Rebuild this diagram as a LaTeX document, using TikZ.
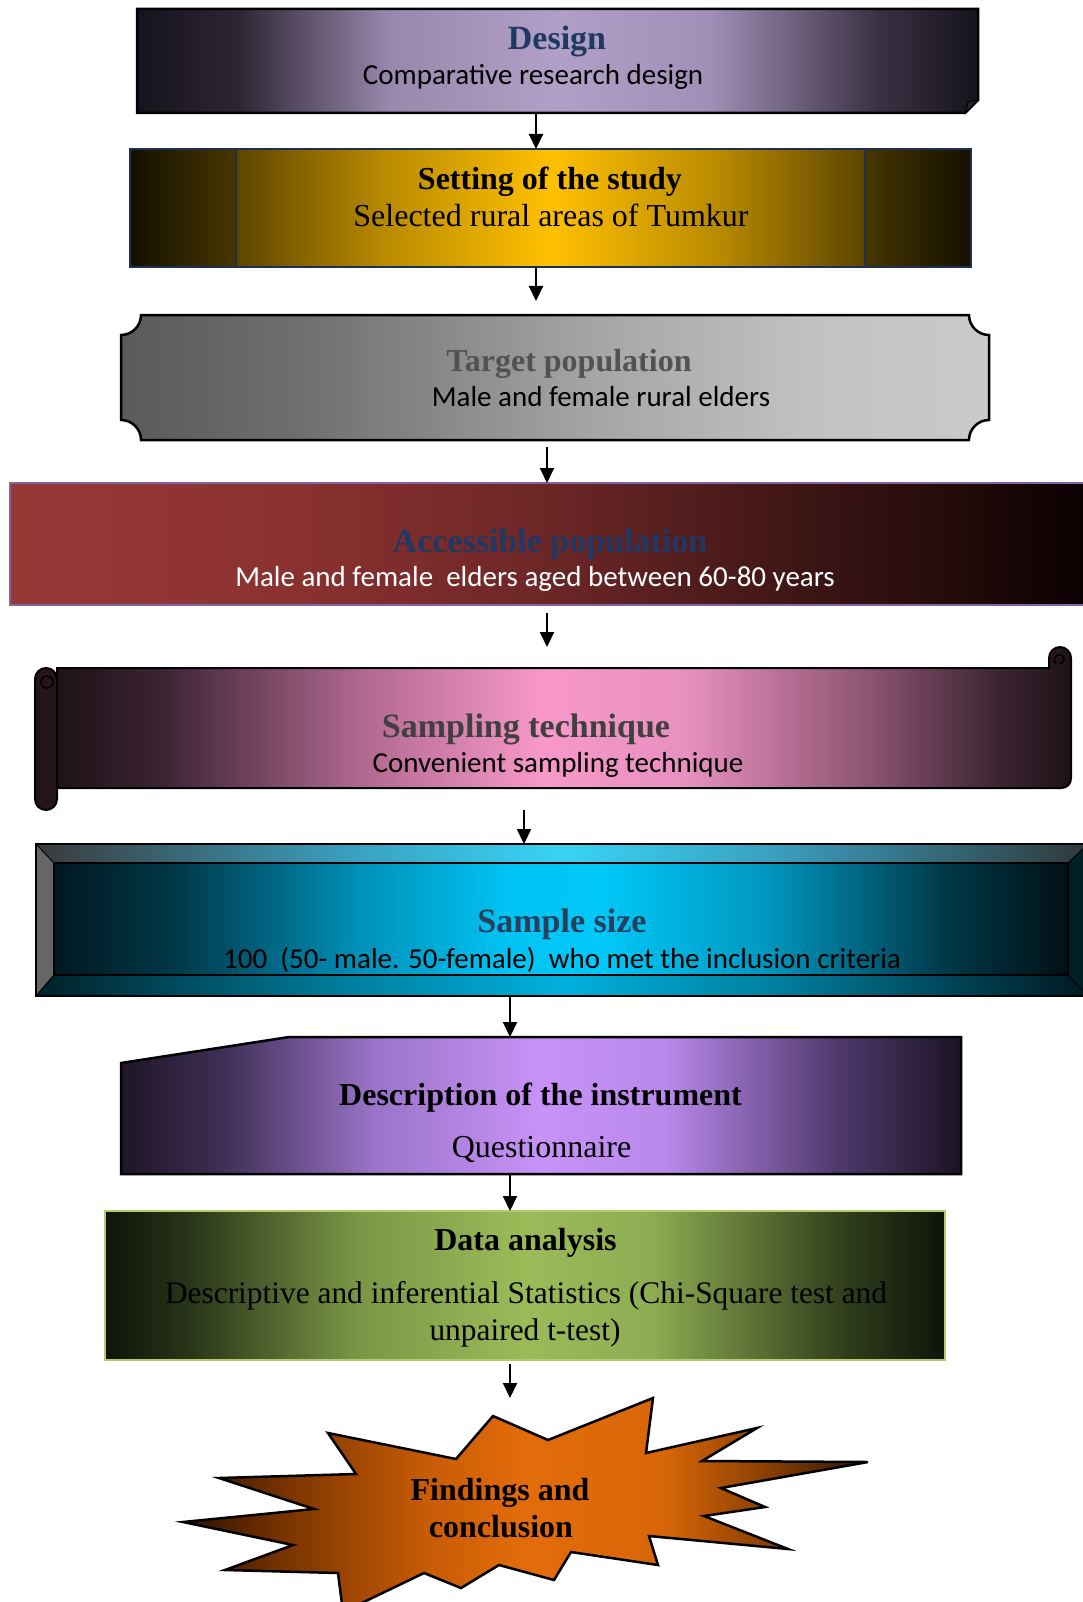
\documentclass[tikz,border=0pt]{standalone}
\usepackage{fontspec}
\setmainfont{Liberation Serif}
\newfontfamily\calfont{Carlito}
\usetikzlibrary{arrows.meta}
% colours
\definecolor{dA}{HTML}{16131C}\definecolor{dB}{HTML}{2C2634}\definecolor{dC}{HTML}{9988AD}
\definecolor{dD}{HTML}{B19FC7}\definecolor{dE}{HTML}{A28FB8}\definecolor{dF}{HTML}{3A3244}
\definecolor{sA}{HTML}{141000}\definecolor{sB}{HTML}{463600}\definecolor{sC}{HTML}{5E4600}
\definecolor{sD}{HTML}{B88A00}\definecolor{sE}{HTML}{FFC000}
\definecolor{tA}{HTML}{5A5A5A}\definecolor{tB}{HTML}{6E6E6E}\definecolor{tC}{HTML}{A6A6A6}
\definecolor{tD}{HTML}{C2C2C2}\definecolor{tE}{HTML}{CACACA}
\definecolor{aA}{HTML}{973836}\definecolor{aB}{HTML}{8B3230}\definecolor{aC}{HTML}{6C2626}
\definecolor{aD}{HTML}{3A1414}\definecolor{aE}{HTML}{1E0808}\definecolor{aF}{HTML}{0A0000}
\definecolor{pA}{HTML}{1E1218}\definecolor{pB}{HTML}{3A2230}\definecolor{pC}{HTML}{B06890}
\definecolor{pD}{HTML}{F898C8}\definecolor{pE}{HTML}{E890C0}\definecolor{pF}{HTML}{8C5470}
\definecolor{pG}{HTML}{3A2430}
\definecolor{cA}{HTML}{001820}\definecolor{cB}{HTML}{013848}\definecolor{cC}{HTML}{0090B8}
\definecolor{cD}{HTML}{00C4F4}\definecolor{cE}{HTML}{00C8F8}\definecolor{cF}{HTML}{0098C0}
\definecolor{cG}{HTML}{003848}\definecolor{cH}{HTML}{001014}
\definecolor{bA}{HTML}{3A3A3A}\definecolor{bB}{HTML}{3AA0C0}\definecolor{bC}{HTML}{38D4F4}
\definecolor{bD}{HTML}{303838}
\definecolor{eA}{HTML}{002028}\definecolor{eB}{HTML}{0080A0}\definecolor{eC}{HTML}{00B0DC}
\definecolor{eD}{HTML}{001820}
\definecolor{iA}{HTML}{1E1626}\definecolor{iB}{HTML}{3E2E54}\definecolor{iC}{HTML}{9A74C8}
\definecolor{iD}{HTML}{C892F8}\definecolor{iE}{HTML}{B888EA}\definecolor{iF}{HTML}{503A6E}
\definecolor{iG}{HTML}{1C1424}
\definecolor{gA}{HTML}{0E1408}\definecolor{gB}{HTML}{283418}\definecolor{gC}{HTML}{7A9646}
\definecolor{gD}{HTML}{9BBB59}\definecolor{gE}{HTML}{8EAC52}\definecolor{gF}{HTML}{303E1C}
\definecolor{oA}{HTML}{2E1000}\definecolor{oB}{HTML}{7A3400}\definecolor{oC}{HTML}{C65A06}
\definecolor{oD}{HTML}{E36C0A}\definecolor{oE}{HTML}{D86608}\definecolor{oF}{HTML}{8A4004}
\definecolor{oG}{HTML}{2E1200}
\definecolor{titleblue}{HTML}{1F3A60}
\definecolor{accblue}{HTML}{1F3864}
\definecolor{sampblue}{HTML}{2B3F5C}
\definecolor{setline}{HTML}{1F2F4F}
\definecolor{accline}{HTML}{8064A2}
\definecolor{dataline}{HTML}{B5CC6A}
\definecolor{scrolldark}{HTML}{24141C}
% shadings
\pgfdeclarehorizontalshading{designsh}{100bp}{color(0bp)=(dA); color(25bp)=(dA); color(31bp)=(dB); color(40bp)=(dC); color(50bp)=(dD); color(59bp)=(dE); color(69bp)=(dF); color(75bp)=(dA); color(100bp)=(dA)}
\pgfdeclarehorizontalshading{settingsh}{100bp}{color(0bp)=(sA); color(25bp)=(sA); color(31.25bp)=(sB); color(31.4bp)=(sC); color(40bp)=(sD); color(50bp)=(sE); color(60bp)=(sD); color(68.6bp)=(sC); color(68.75bp)=(sB); color(75bp)=(sA); color(100bp)=(sA)}
\pgfdeclarehorizontalshading{targetsh}{100bp}{color(0bp)=(tA); color(25bp)=(tA); color(35bp)=(tB); color(52.5bp)=(tC); color(65bp)=(tD); color(75bp)=(tE); color(100bp)=(tE)}
\pgfdeclarehorizontalshading{accesssh}{100bp}{color(0bp)=(aA); color(25bp)=(aA); color(37.5bp)=(aB); color(50bp)=(aC); color(62.5bp)=(aD); color(70bp)=(aE); color(75bp)=(aF); color(100bp)=(aF)}
\pgfdeclarehorizontalshading{samplingsh}{100bp}{color(0bp)=(pA); color(25bp)=(pA); color(30bp)=(pB); color(40bp)=(pC); color(49bp)=(pD); color(56bp)=(pE); color(65bp)=(pF); color(71.5bp)=(pG); color(75bp)=(pA); color(100bp)=(pA)}
\pgfdeclarehorizontalshading{samplesh}{100bp}{color(0bp)=(cA); color(25bp)=(cA); color(31bp)=(cB); color(40bp)=(cC); color(47.5bp)=(cD); color(52bp)=(cE); color(60bp)=(cF); color(69bp)=(cG); color(75bp)=(cH); color(100bp)=(cH)}
\pgfdeclarehorizontalshading{bevtopsh}{100bp}{color(0bp)=(bA); color(25bp)=(bA); color(40bp)=(bB); color(50bp)=(bC); color(60bp)=(bB); color(75bp)=(bD); color(100bp)=(bD)}
\pgfdeclarehorizontalshading{bevbotsh}{100bp}{color(0bp)=(eA); color(25bp)=(eA); color(40bp)=(eB); color(50bp)=(eC); color(60bp)=(eB); color(75bp)=(eD); color(100bp)=(eD)}
\pgfdeclarehorizontalshading{instrsh}{100bp}{color(0bp)=(iA); color(25bp)=(iA); color(31bp)=(iB); color(40bp)=(iC); color(50bp)=(iD); color(57.5bp)=(iE); color(67.5bp)=(iF); color(75bp)=(iG); color(100bp)=(iG)}
\pgfdeclarehorizontalshading{datash}{100bp}{color(0bp)=(gA); color(25bp)=(gA); color(30bp)=(gB); color(40bp)=(gC); color(50bp)=(gD); color(57.5bp)=(gE); color(69bp)=(gF); color(75bp)=(gA); color(100bp)=(gA)}
\pgfdeclarehorizontalshading{starsh}{100bp}{color(0bp)=(oA); color(25bp)=(oA); color(32.5bp)=(oB); color(42.5bp)=(oC); color(50bp)=(oD); color(60bp)=(oE); color(67.5bp)=(oF); color(75bp)=(oG); color(100bp)=(oG)}

\tikzset{
  holder/.style={inner sep=0pt, outer sep=0pt, draw=none},
  arr/.style={line width=2pt, -{Triangle[length=15pt,width=14pt]}},
  camb/.style={anchor=base, inner sep=0pt, font=\fontsize{34}{40}\selectfont\bfseries},
  tbold/.style={anchor=base, inner sep=0pt, font=\fontsize{32}{38}\selectfont\bfseries},
  treg/.style={anchor=base, inner sep=0pt, font=\fontsize{32}{38}\selectfont},
  tregs/.style={anchor=base, inner sep=0pt, font=\fontsize{31.4}{38}\selectfont},
  cal/.style={anchor=base, inner sep=0pt, font=\fontsize{29}{35}\selectfont\calfont},
}

\begin{document}
\begin{tikzpicture}[x=1pt,y=-1pt]
\useasboundingbox (0,0) rectangle (1083,1602);
\fill[white] (0,0) rectangle (1083,1602);

% ---------- 1 Design ----------
\node[holder, minimum width=841, minimum height=103] (design) at (557.5,60.5) {};
\shadedraw[shading=designsh, line width=2.5pt, line join=miter]
  (137,9) -- (978,9) -- (978,100) -- (965,113) -- (137,113) -- cycle;
\filldraw[fill=black!85, line width=1pt] (965,113) -- (968,102) -- (978,100) -- cycle;
\node[camb, text=titleblue] (designT) at (557,50) {Design};
\node[cal] (designS) at (533,85) {Comparative research design};

% ---------- 2 Setting ----------
\node[holder, shade, shading=settingsh, draw=setline, line width=2pt,
      minimum width=841, minimum height=118] (setting) at (550.5,208) {};
\draw[setline, line width=2pt] (236,149) -- (236,267) (865,149) -- (865,267);
\node[tbold] (settingT) at (550,190) {Setting of the study};
\node[treg] (settingS) at (551,227) {Selected rural areas of Tumkur};

% ---------- 3 Target ----------
\node[holder, minimum width=868, minimum height=125] (target) at (555,377.5) {};
\shadedraw[shading=targetsh, line width=2.5pt]
  (141,315) -- (969,315) .. controls (969,326) and (978,335) .. (989,335)
  -- (989,420) .. controls (978,420) and (969,429) .. (969,440)
  -- (141,440) .. controls (141,429) and (132,420) .. (121,420)
  -- (121,335) .. controls (132,335) and (141,326) .. (141,315) -- cycle;
\node[tbold, text=black!68] (targetT) at (569,371) {Target population};
\node[cal] (targetS) at (601,406) {Male and female rural elders};

% ---------- 4 Accessible ----------
\node[holder, shade, shading=accesssh, draw=accline, line width=2pt,
      minimum width=1082, minimum height=122] (access) at (551,544) {};
\node[camb, text=accblue] (accessT) at (550,552) {Accessible population};
\node[cal, text=white] (accessS) at (535,586) {Male and female~ elders aged between 60-80 years};

% ---------- 5 Sampling (scroll) ----------
\node[holder, minimum width=1036, minimum height=163] (sampling) at (553,728.5) {};
\shadedraw[shading=samplingsh, line width=2pt]
  (57,668) -- (1049,668) -- (1049,658)
  .. controls (1049,652) and (1054,647) .. (1060,647)
  .. controls (1066,647) and (1071,652) .. (1071,658)
  -- (1071,778) .. controls (1071,784) and (1067,788) .. (1061,788)
  -- (57,788) -- cycle;
\draw[line width=1.5pt] (1049,668) -- (1049,662);
\draw[line width=1.5pt] (1056,664) .. controls (1052,660) and (1056,653) .. (1061,655)
  .. controls (1066,657) and (1064,664) .. (1059,664);
\draw[fill=scrolldark, line width=2pt, rounded corners=11] (35,668) rectangle (57,810);
\draw[line width=1.5pt] (47,682) circle[radius=6];

\node[camb, text=black!75] (samplingT) at (526,737) {Sampling technique};
\node[cal] (samplingS) at (558,772) {Convenient sampling technique};

% ---------- 6 Sample size (bevel) ----------
\node[holder, minimum width=1052, minimum height=152] (sample) at (562,920) {};
\shade[shading=samplesh] (54,863) rectangle (1068,976);
\shade[shading=bevtopsh] (36,844) -- (1088,844) -- (1068,863) -- (54,863) -- cycle;
\fill[black!60] (36,844) -- (54,863) -- (54,976) -- (36,996) -- cycle;
\fill[eA] (1088,844) -- (1068,863) -- (1068,976) -- (1088,996) -- cycle;
\node[camb, text=sampblue] (sampleT) at (562,932) {Sample size};
\node[cal] (sampleS) at (562,968) {100~ (50- male. 50-female)~ who met the inclusion criteria};
\shade[shading=bevbotsh] (36,996) -- (54,975) -- (1068,975) -- (1088,996) -- cycle;
\draw[line width=2pt] (36,844) rectangle (1088,996);
\draw[line width=2pt] (54,863) rectangle (1068,975);
\draw[line width=1pt] (36,844) -- (54,863) (36,996) -- (54,975)
  (1088,844) -- (1068,863) (1088,996) -- (1068,975);

% ---------- 7 Instrument ----------
\node[holder, minimum width=840, minimum height=137] (instr) at (541,1105.5) {};
\shadedraw[shading=instrsh, line width=2.5pt]
  (121,1063) -- (289,1037) -- (961,1037) -- (961,1174) -- (121,1174) -- cycle;
\node[tbold] (instrT) at (540.5,1105) {Description of the instrument};
\node[treg] (instrS) at (541.5,1157) {Questionnaire};

% ---------- 8 Data analysis ----------
\node[holder, shade, shading=datash, draw=dataline, line width=1.8pt,
      minimum width=840, minimum height=149] (data) at (525,1285.5) {};
\node[tbold] (dataT) at (525.5,1250) {Data analysis};
\node[tregs] (dataS1) at (526,1303) {Descriptive and inferential Statistics (Chi-Square test and};
\node[tregs] (dataS2) at (525,1340) {unpaired t-test)};

% ---------- 9 Findings (starburst) ----------
\node[holder, minimum width=685, minimum height=204] (star) at (525.5,1500) {};
\shadedraw[shading=starsh, line width=2.5pt, line join=miter]
  (493,1416) -- (548,1440) -- (653,1398) -- (646,1453) -- (757,1428) -- (702,1461)
  -- (868,1462) -- (721,1488) -- (765,1507) -- (704,1516) -- (788,1549) -- (649,1536)
  -- (658,1565) -- (571,1552) -- (554,1580) -- (499,1565) -- (461,1588) -- (424,1573)
  -- (343,1612) -- (338,1573) -- (225,1570) -- (293,1545) -- (183,1522) -- (314,1509)
  -- (219,1478) -- (356,1474) -- (328,1433) -- (456,1459) -- cycle;
\node[tbold] (starT1) at (500,1500) {Findings and};
\node[tbold] (starT2) at (501,1537) {conclusion};

% ---------- connectors ----------
\coordinate (xa) at (536,0);
\coordinate (xb) at (547,0);
\coordinate (xc) at (524,0);
\coordinate (xd) at (510,0);
\draw[arr] (design.south -| xa) -- (setting.north -| xa);
\draw[arr] (setting.south -| xa) -- ([yshift=14pt]target.north -| xa);
\draw[arr] ([yshift=-7pt]target.south -| xb) -- (access.north -| xb);
\draw[arr] ([yshift=-8pt]access.south -| xb) -- (sampling.north -| xb);
\draw[arr] (sampling.south -| xc) -- (sample.north -| xc);
\draw[arr] (sample.south -| xd) -- (instr.north -| xd);
\draw[arr] (instr.south -| xd) -- (data.north -| xd);
\draw[arr] ([yshift=-4pt]data.south -| xd) -- (star.north -| xd);
\end{tikzpicture}
\end{document}
